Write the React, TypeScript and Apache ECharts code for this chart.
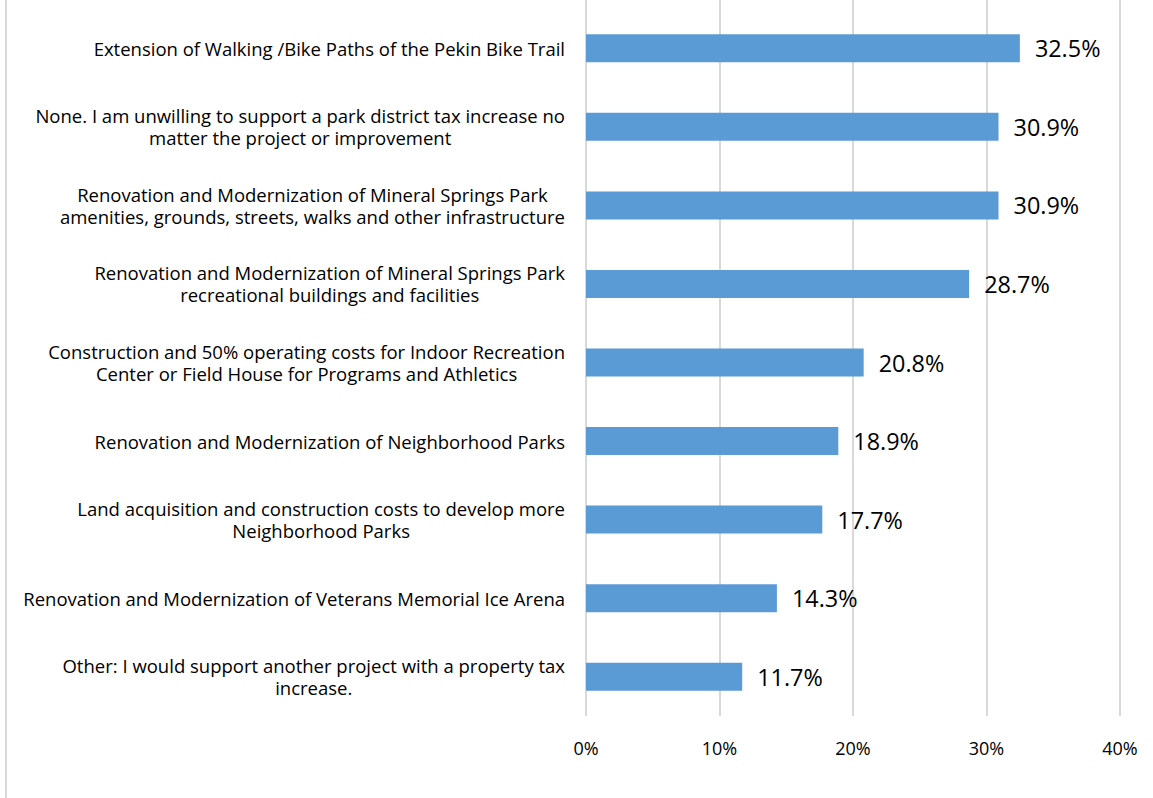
import React, { useEffect, useRef } from "react";
import * as echarts from "echarts";

const categories = [
  "Extension of Walking /Bike Paths of the Pekin Bike Trail",
  "None. I am unwilling to support a park district tax increase no\nmatter the project or improvement",
  "Renovation and Modernization of Mineral Springs Park\namenities, grounds, streets, walks and other infrastructure",
  "Renovation and Modernization of Mineral Springs Park\nrecreational buildings and facilities",
  "Construction and 50% operating costs for Indoor Recreation\nCenter or Field House for Programs and Athletics",
  "Renovation and Modernization of Neighborhood Parks",
  "Land acquisition and construction costs to develop more\nNeighborhood Parks",
  "Renovation and Modernization of Veterans Memorial Ice Arena",
  "Other: I would support another project with a property tax\nincrease.",
];
const values = [32.5, 30.9, 30.9, 28.7, 20.8, 18.9, 17.7, 14.3, 11.7];
const xTicks = [0, 10, 20, 30, 40];

const FONT = "'Open Sans', Carlito, Calibri, sans-serif";
const GRID_COLOR = "#d9d9d9";

export default function App() {
  const ref = useRef<HTMLDivElement>(null);
  useEffect(() => {
    if (!ref.current) return;
    const chart = echarts.init(ref.current, null, { renderer: "svg" });
    const xMin = xTicks[0];
    const xMax = xTicks[xTicks.length - 1];
    chart.setOption({
      animation: false,
      backgroundColor: "#ffffff",
      grid: [
        { left: 586, right: 33, top: 9, bottom: 82, containLabel: false },
        { left: 586, right: 33, top: 0, height: 9, containLabel: false },
      ],
      graphic: [
        {
          type: "line",
          shape: { x1: 6, y1: 0, x2: 6, y2: 798 },
          style: { stroke: GRID_COLOR, lineWidth: 2 },
        },
      ],
      xAxis: [
        {
          type: "value",
          gridIndex: 0,
          min: xMin,
          max: xMax,
          interval: 10,
          axisLine: { show: false },
          axisTick: { show: false },
          splitLine: { show: true, lineStyle: { color: GRID_COLOR, width: 2 } },
          axisLabel: {
            formatter: (v: number) => v + "%",
            fontFamily: FONT,
            fontSize: 18,
            color: "#000",
            margin: 23,
          },
        },
        {
          type: "value",
          gridIndex: 1,
          min: xMin,
          max: xMax,
          interval: 10,
          axisLine: { show: false },
          axisTick: { show: false },
          axisLabel: { show: false },
          splitLine: { show: true, lineStyle: { color: GRID_COLOR, width: 2 } },
        },
      ],
      yAxis: [
        {
          type: "category",
          gridIndex: 0,
          data: categories,
          inverse: true,
          axisLine: { show: false },
          axisTick: { show: false },
          splitLine: { show: false },
          axisLabel: {
            margin: 21,
            color: "#000",
            fontFamily: FONT,
            fontSize: 18.5,
            lineHeight: 22,
            formatter: (v: string) =>
              v
                .split("\n")
                .map((l) => "{c|" + l + "}")
                .join("\n"),
            rich: {
              c: {
                align: "center",
                fontFamily: FONT,
                fontSize: 18.5,
                lineHeight: 22,
                color: "#000",
              },
            },
          },
        },
        {
          type: "value",
          gridIndex: 1,
          show: false,
        },
      ],
      series: [
        {
          type: "bar",
          xAxisIndex: 0,
          yAxisIndex: 0,
          data: values,
          barWidth: 28,
          itemStyle: { color: "#5b9bd5" },
          label: {
            show: true,
            position: "right",
            distance: 15,
            formatter: (p: any) => p.value.toFixed(1) + "%",
            fontFamily: FONT,
            fontSize: 23.4,
            color: "#000",
          },
        },
      ],
    });
    return () => chart.dispose();
  }, []);
  return (
    <div
      ref={ref}
      style={{ position: "fixed", left: 0, top: 0, width: 1153, height: 798 }}
    />
  );
}
